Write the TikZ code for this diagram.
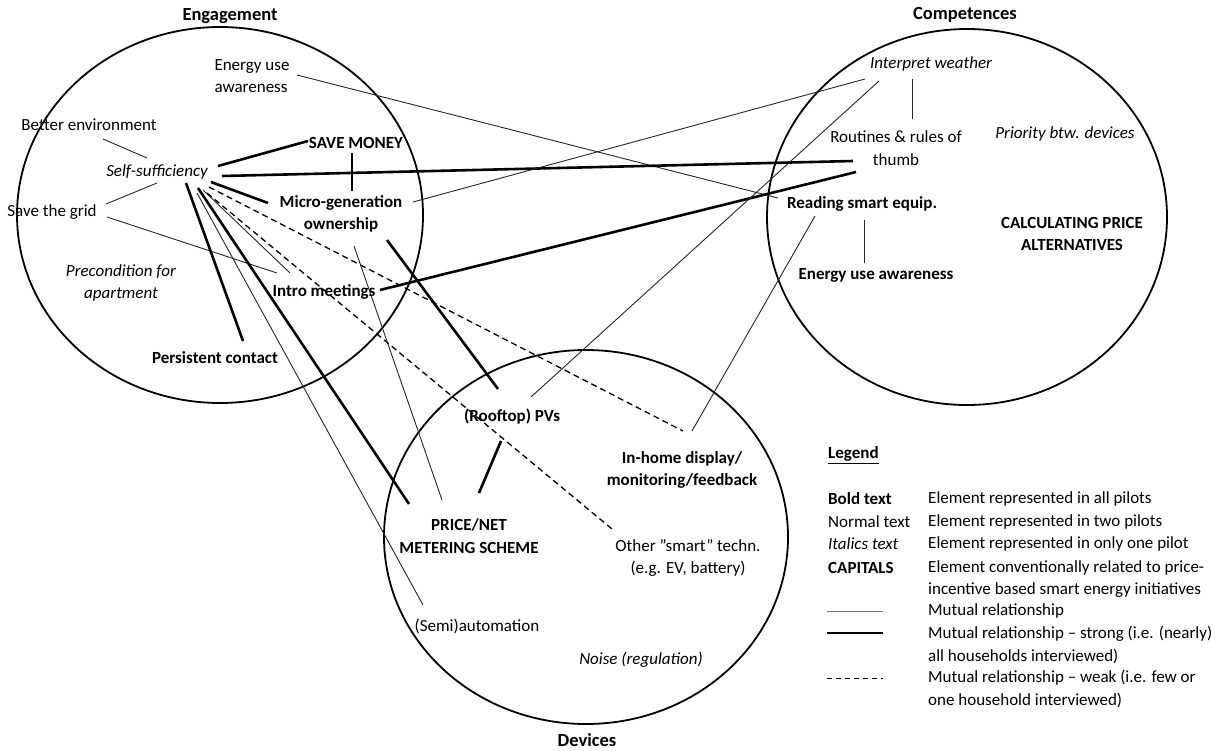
\documentclass[tikz,border=0pt]{standalone}
\usepackage{fontspec}
\setmainfont{Carlito}
\usetikzlibrary{positioning}

\begin{document}
\begin{tikzpicture}[x=1pt, y=-1pt,
  every node/.style={font=\fontsize{17}{22.5}\selectfont, inner sep=1pt},
  bld/.style={font=\fontsize{17}{22.5}\selectfont\bfseries},
  itl/.style={font=\fontsize{17}{22.5}\selectfont\itshape},
  title/.style={font=\fontsize{18.5}{22.5}\selectfont\bfseries},
  sphere/.style={line width=1.8pt},
  rel/.style={line width=0.9pt, black!85},
  strong/.style={line width=2.6pt},
  weak/.style={line width=1.3pt, dash pattern=on 6pt off 4pt}]
  \useasboundingbox (0,0) rectangle (1215,750);

  % the three circles
  \draw[sphere] (220,215) ellipse [x radius=203, y radius=188];
  \draw[sphere] (967,217) ellipse [x radius=200, y radius=188];
  \draw[sphere] (586,537) ellipse [x radius=202, y radius=187];
  \node[title] (teng) at (230,16) {Engagement};
  \node[title] (tcomp) at (965,15) {Competences};
  \node[title] (tdev) at (587,740) {Devices};

  % engagement
  \node[align=left] (euse) at (252,76) {Energy use\\awareness};
  \node (better) at (89,125) {Better environment};
  \node[itl] (selfsuf) at (157,172) {Self-sufficiency};
  \node (grid) at (52,212) {Save the grid};
  \node[bld] (money) at (356,143) {SAVE MONEY};
  \node[bld, align=center] (microgen) at (341,214) {Micro-generation\\ownership};
  \node[itl, align=center] (precond) at (121,283) {Precondition for\\apartment};
  \node[bld] (intro) at (324,292) {Intro meetings};
  \node[bld] (contact) at (215,358) {Persistent contact};

  % competences
  \node[itl] (weather) at (931,64) {Interpret weather};
  \node[align=center] (routines) at (896,148) {Routines \& rules of\\thumb};
  \node[itl] (priority) at (1065,134) {Priority btw. devices};
  \node[bld] (reading) at (862,204) {Reading smart equip.};
  \node[bld, align=center] (calc) at (1072,234) {CALCULATING PRICE\\ALTERNATIVES};
  \node[bld] (caware) at (876,275) {Energy use awareness};

  % devices
  \node[bld] (pvs) at (512,417) {(Rooftop) PVs};
  \node[bld, align=center] (inhome) at (682,470) {In-home display/\\monitoring/feedback};
  \node[bld, align=center] (pricenet) at (469,536) {PRICE/NET\\METERING SCHEME};
  \node[align=center] (other) at (688,558) {Other ”smart” techn.\\(e.g. EV, battery)};
  \node (semi) at (477,626) {(Semi)automation};
  \node[itl] (noise) at (641,660) {Noise (regulation)};

  % relationships
  \draw[rel] ([shift={(45,-1)}]euse.center) -- ([shift={(-84,-6)}]reading.center);
  \draw[rel] ([shift={(14,14)}]better.center) -- ([shift={(-10,-14)}]selfsuf.center);
  \draw[strong] ([shift={(61,-6)}]selfsuf.center) -- ([shift={(-48,-2)}]money.center);
  \draw[strong] ([shift={(65,4)}]selfsuf.center) -- ([shift={(-43,13)}]routines.center);
  \draw[strong] ([shift={(-4,10)}]money.center) -- ([shift={(11,-23)}]microgen.center);
  \draw[rel] ([shift={(54,-8)}]grid.center) -- ([shift={(0,11)}]selfsuf.center);
  \draw[rel] ([shift={(55,5)}]grid.center) -- ([shift={(-47,-19)}]intro.center);
  \draw[strong] ([shift={(54,10)}]selfsuf.center) -- ([shift={(-73,-11)}]microgen.center);
  \draw[rel] ([shift={(72,-12)}]microgen.center) -- ([shift={(-66,15)}]weather.center);
  \draw[strong] ([shift={(46,26)}]microgen.center) -- ([shift={(-14,-28)}]pvs.center);
  \draw[strong] ([shift={(56,-2)}]intro.center) -- ([shift={(-40,24)}]routines.center);
  \draw[strong] ([shift={(29,11)}]selfsuf.center) -- ([shift={(28,-17)}]contact.center);
  \draw[rel] ([shift={(40,21)}]selfsuf.center) -- ([shift={(-54,-21)}]semi.center);
  \draw[strong] ([shift={(41,16)}]selfsuf.center) -- ([shift={(-60,-32)}]pricenet.center);
  \draw[rel] ([shift={(46,18)}]selfsuf.center) -- ([shift={(-34,-19)}]intro.center);
  \draw[weak] ([shift={(52,15)}]selfsuf.center) -- ([shift={(1,-39)}]inhome.center);
  \draw[weak] ([shift={(50,21)}]selfsuf.center) -- ([shift={(-76,-29)}]other.center);
  \draw[rel] ([shift={(13,32)}]microgen.center) -- ([shift={(-27,-36)}]pricenet.center);
  \draw[strong] ([shift={(-11,24)}]pvs.center) -- ([shift={(10,-43)}]pricenet.center);
  \draw[rel] ([shift={(19,-20)}]pvs.center) -- ([shift={(-52,17)}]weather.center);
  \draw[rel] ([shift={(10,-39)}]inhome.center) -- ([shift={(-47,12)}]reading.center);
  \draw[rel] ([shift={(-19,15)}]weather.center) -- ([shift={(16,-29)}]routines.center);
  \draw[rel] ([shift={(2,16)}]reading.center) -- ([shift={(-12,-12)}]caware.center);

  % legend
  \node[bld, anchor=west] (lgtitle) at (827,455) {\underline{Legend}};
  \node[bld, anchor=west] (lgbold) at (827,499) {Bold text};
  \node[anchor=west] (lgnormal) at (827,522) {Normal text};
  \node[itl, anchor=west] (lgital) at (827,544) {Italics text};
  \node[bld, anchor=west] (lgcaps) at (827,568) {CAPITALS};
  \node[anchor=west] (lgall) at (927,499) {Element represented in all pilots};
  \node[anchor=west] (lgtwo) at (927,522) {Element represented in two pilots};
  \node[anchor=west] (lgone) at (927,544) {Element represented in only one pilot};
  \node[anchor=west, align=left] (lgconv) at (927,579) {Element conventionally related to price-\\incentive based smart energy initiatives};
  \node[anchor=west] (lgrel) at (927,611) {Mutual relationship};
  \node[anchor=west, align=left] (lgstrong) at (927,645) {Mutual relationship -- strong (i.e. (nearly)\\all households interviewed)};
  \node[anchor=west, align=left] (lgweak) at (927,689) {Mutual relationship -- weak (i.e. few or\\one household interviewed)};
  \draw[rel, black!55] ([shift={(-100,0)}]lgrel.west) -- ([shift={(-44,0)}]lgrel.west);
  \draw[strong] ([shift={(-100,-12)}]lgstrong.west) -- ([shift={(-44,-12)}]lgstrong.west);
  \draw[weak, line width=1pt, dash pattern=on 5pt off 4pt] ([shift={(-100,-11)}]lgweak.west) -- ([shift={(-44,-11)}]lgweak.west);
\end{tikzpicture}
\end{document}
